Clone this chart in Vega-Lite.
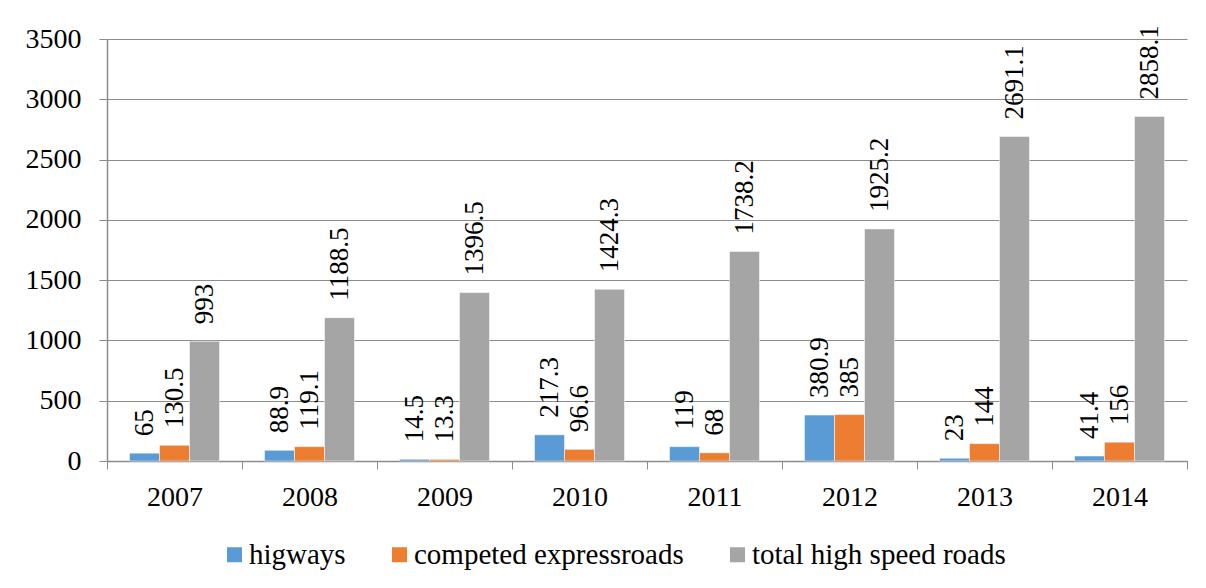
{
  "$schema": "https://vega.github.io/schema/vega-lite/v6.json",
  "autosize": "none",
  "width": 1080,
  "height": 422,
  "padding": {"left": 107, "top": 39, "right": 19, "bottom": 127},
  "background": "white",
  "config": {
    "view": {"stroke": null},
    "font": "Liberation Serif",
    "axis": {"labelFont": "Liberation Serif", "labelColor": "#000000", "labelFontSize": 28, "domainColor": "#8c8c8c", "tickColor": "#8c8c8c", "gridColor": "#8c8c8c", "title": null},
    "legend": {"labelFont": "Liberation Serif", "labelFontSize": 29, "labelColor": "#000000", "labelLimit": 0, "padding": 0}
  },
  "data": {"values": [
    {"year": "2007", "series": "higways", "value": 65},
    {"year": "2007", "series": "competed expressroads", "value": 130.5},
    {"year": "2007", "series": "total high speed roads", "value": 993},
    {"year": "2008", "series": "higways", "value": 88.9},
    {"year": "2008", "series": "competed expressroads", "value": 119.1},
    {"year": "2008", "series": "total high speed roads", "value": 1188.5},
    {"year": "2009", "series": "higways", "value": 14.5},
    {"year": "2009", "series": "competed expressroads", "value": 13.3},
    {"year": "2009", "series": "total high speed roads", "value": 1396.5},
    {"year": "2010", "series": "higways", "value": 217.3},
    {"year": "2010", "series": "competed expressroads", "value": 96.6},
    {"year": "2010", "series": "total high speed roads", "value": 1424.3},
    {"year": "2011", "series": "higways", "value": 119},
    {"year": "2011", "series": "competed expressroads", "value": 68},
    {"year": "2011", "series": "total high speed roads", "value": 1738.2},
    {"year": "2012", "series": "higways", "value": 380.9},
    {"year": "2012", "series": "competed expressroads", "value": 385},
    {"year": "2012", "series": "total high speed roads", "value": 1925.2},
    {"year": "2013", "series": "higways", "value": 23},
    {"year": "2013", "series": "competed expressroads", "value": 144},
    {"year": "2013", "series": "total high speed roads", "value": 2691.1},
    {"year": "2014", "series": "higways", "value": 41.4},
    {"year": "2014", "series": "competed expressroads", "value": 156},
    {"year": "2014", "series": "total high speed roads", "value": 2858.1}
  ]},
  "encoding": {
    "x": {"field": "year", "type": "nominal", "scale": {"paddingInner": 0, "paddingOuter": 0},
          "axis": {"labelAngle": 0, "tickBand": "extent", "tickSize": 8, "labelPadding": 14, "domainWidth": 1.5}},
    "xOffset": {"field": "series", "type": "nominal", "sort": ["higways", "competed expressroads", "total high speed roads"],
                "scale": {"paddingInner": 0, "paddingOuter": 0.75}},
    "y": {"field": "value", "type": "quantitative",
          "scale": {"domain": [0, 3500], "nice": false},
          "axis": {"values": [0, 500, 1000, 1500, 2000, 2500, 3000, 3500], "format": "d", "tickSize": 8, "labelPadding": 18, "grid": true, "domainWidth": 1.5}}
  },
  "layer": [
    {
      "mark": {"type": "bar", "stroke": "white", "strokeWidth": 0.5},
      "encoding": {
        "color": {"field": "series", "type": "nominal",
                  "scale": {"domain": ["higways", "competed expressroads", "total high speed roads"], "range": ["#5B9BD5", "#ED7D31", "#A5A5A5"]},
                  "legend": {"title": null, "orient": "none", "direction": "horizontal", "legendX": 113, "legendY": 501,
                             "symbolType": "square", "symbolSize": 225, "symbolStrokeWidth": 0, "labelOffset": 0, "columnPadding": 39}}
      }
    },
    {
      "mark": {"type": "text", "angle": 270, "align": "left", "baseline": "middle", "dx": 17, "fontSize": 27, "font": "Liberation Serif", "color": "#000000"},
      "encoding": {
        "text": {"field": "value", "type": "quantitative", "format": "~f"}
      }
    }
  ]
}
